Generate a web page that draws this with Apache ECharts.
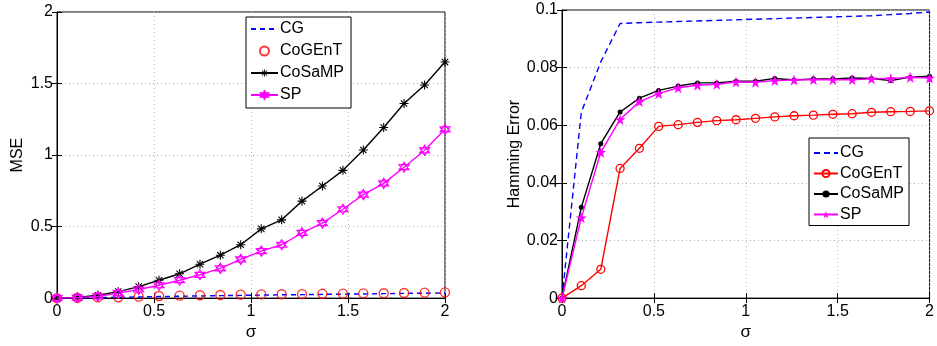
<!DOCTYPE html>
<html>
<head>
<meta charset="utf-8">
<script src="https://cdn.jsdelivr.net/npm/echarts@6/dist/echarts.min.js"></script>
<style>
html,body{margin:0;padding:0;background:#fff;}
#chart{width:937px;height:346px;}
</style>
</head>
<body>
<div id="chart"></div>
<script>
// sigma values: 20 points from 0 to 2
const sigma = [0, 0.105, 0.211, 0.316, 0.421, 0.526, 0.632, 0.737, 0.842, 0.947, 1.053, 1.158, 1.263, 1.368, 1.474, 1.579, 1.684, 1.789, 1.895, 2.0];
const xTicks = [0, 0.5, 1, 1.5, 2];

// Left panel: MSE
const mseCG      = [0, 0.002, 0.004, 0.006, 0.008, 0.011, 0.013, 0.015, 0.017, 0.019, 0.021, 0.023, 0.024, 0.026, 0.028, 0.029, 0.031, 0.033, 0.034, 0.036];
const mseCoGEnT  = [0, 0.002, 0.005, 0.006, 0.010, 0.015, 0.017, 0.020, 0.022, 0.024, 0.026, 0.027, 0.028, 0.030, 0.031, 0.033, 0.034, 0.036, 0.038, 0.040];
const mseCoSaMP  = [0, 0.005, 0.020, 0.045, 0.080, 0.125, 0.170, 0.237, 0.300, 0.373, 0.484, 0.547, 0.678, 0.784, 0.893, 1.035, 1.193, 1.360, 1.490, 1.650];
const mseSP      = [0, 0.003, 0.012, 0.035, 0.060, 0.090, 0.125, 0.163, 0.208, 0.271, 0.328, 0.373, 0.456, 0.524, 0.621, 0.723, 0.802, 0.915, 1.033, 1.180];

// Right panel: Hamming Error
const hamCG      = [0, 0.0645, 0.0820, 0.0953, 0.0956, 0.0958, 0.0960, 0.0962, 0.0964, 0.0966, 0.0968, 0.0970, 0.0972, 0.0974, 0.0976, 0.0978, 0.0980, 0.0984, 0.0988, 0.0993];
const hamCoGEnT  = [0, 0.0043, 0.0100, 0.0450, 0.0520, 0.0596, 0.0602, 0.0610, 0.0616, 0.0619, 0.0624, 0.0629, 0.0633, 0.0635, 0.0638, 0.0640, 0.0645, 0.0647, 0.0648, 0.0650];
const hamCoSaMP  = [0, 0.0315, 0.0536, 0.0646, 0.0694, 0.0721, 0.0736, 0.0747, 0.0747, 0.0753, 0.0753, 0.0762, 0.0757, 0.0761, 0.0761, 0.0764, 0.0762, 0.0755, 0.0767, 0.0770];
const hamSP      = [0, 0.0279, 0.0506, 0.0620, 0.0682, 0.0710, 0.0730, 0.0739, 0.0742, 0.0750, 0.0749, 0.0755, 0.0757, 0.0758, 0.0758, 0.0758, 0.0761, 0.0762, 0.0766, 0.0764];

const seriesNames = ['CG', 'CoGEnT', 'CoSaMP', 'SP'];

function pairs(ys){ return sigma.map((x,i)=>[x, ys[i]]); }

const FONT = 'Liberation Sans, Arial, Helvetica, sans-serif';
const asterisk = 'path://M-1.2,-10 L1.2,-10 L1.2,10 L-1.2,10 Z M-10,-1.2 L10,-1.2 L10,1.2 L-10,1.2 Z M-6.22,-7.92 L7.92,6.22 L6.22,7.92 L-7.92,-6.22 Z M6.22,-7.92 L7.92,-6.22 L-6.22,7.92 L-7.92,6.22 Z';
const hexagram = 'path://M0,-10 L8.66,5 L-8.66,5 Z M0,10 L-8.66,-5 L8.66,-5 Z';
const pentagram = 'path://M0,-10 L2.245,-3.09 L9.51,-3.09 L3.633,1.18 L5.878,8.09 L0,3.82 L-5.878,8.09 L-3.633,1.18 L-9.51,-3.09 L-2.245,-3.09 Z';

function mainX(gi){
  return {
    type:'value', gridIndex:gi, min:0, max:2, interval:0.5,
    name:'σ', nameLocation:'middle', nameGap:22,
    nameTextStyle:{color:'#000', fontSize:17, fontFamily:FONT},
    axisLine:{show:true, lineStyle:{color:'#000', width:1}},
    axisTick:{show:true, inside:true, length:5, lineStyle:{color:'#000'}},
    axisLabel:{color:'#000', fontSize:16, fontFamily:FONT, margin:5},
    splitLine:{show:true, lineStyle:{color:'#b4b4b4', type:[1,3], width:1}}
  };
}
function topX(gi){
  return {
    type:'value', gridIndex:gi, min:0, max:2, interval:0.5, position:'top',
    axisLine:{show:true, lineStyle:{color:'#000', width:1}},
    axisTick:{show:true, inside:true, length:5, lineStyle:{color:'#000'}},
    axisLabel:{show:false}, splitLine:{show:false}
  };
}
function mainY(gi, max, interval, name, gap){
  return {
    type:'value', gridIndex:gi, min:0, max:max, interval:interval,
    name:name, nameLocation:'middle', nameGap:gap,
    nameTextStyle:{color:'#000', fontSize:16, fontFamily:FONT},
    axisLine:{show:true, lineStyle:{color:'#000', width:1}},
    axisTick:{show:true, inside:true, length:5, lineStyle:{color:'#000'}},
    axisLabel:{color:'#000', fontSize:16, fontFamily:FONT, margin:4},
    splitLine:{show:true, lineStyle:{color:'#b4b4b4', type:[1,3], width:1}}
  };
}
function rightY(gi, max, interval){
  return {
    type:'value', gridIndex:gi, min:0, max:max, interval:interval, position:'right',
    axisLine:{show:true, lineStyle:{color:'#000', width:1}},
    axisTick:{show:true, inside:true, length:5, lineStyle:{color:'#000'}},
    axisLabel:{show:false}, splitLine:{show:false}
  };
}

const rn = n => n + ' '; // right-panel series names (distinct for legend icons)

function legendData(names){
  return names.map(n => n.trim() === 'CG' ? {name:n, itemStyle:{opacity:0}} : {name:n});
}

const option = {
  animation:false,
  backgroundColor:'#fff',
  textStyle:{fontFamily:FONT},
  grid:[
    {left:57, top:12, width:388, height:295, show:true, borderColor:'#000', borderWidth:1, backgroundColor:'transparent'},
    {left:562, top:10, width:369, height:297, show:true, borderColor:'#000', borderWidth:1, backgroundColor:'transparent'}
  ],
  xAxis:[ mainX(0), topX(0), mainX(1), topX(1) ],
  yAxis:[ mainY(0, 2, 0.5, 'MSE', 31), rightY(0, 2, 0.5), mainY(1, 0.1, 0.02, 'Hamming Error', 39) , rightY(1, 0.1, 0.02) ],
  legend:[
    {
      left:246, top:17, orient:'vertical', itemWidth:27, itemHeight:9, itemGap:6,
      padding:[4,7,5,4], borderColor:'#000', borderWidth:1, backgroundColor:'#fff',
      textStyle:{color:'#000', fontSize:16, fontFamily:FONT, padding:[0,0,0,-3]},
      data: legendData(seriesNames)
    },
    {
      left:809, top:138, orient:'vertical', itemWidth:24, itemHeight:9, itemGap:4.5,
      padding:[7,5,3,4], borderColor:'#000', borderWidth:1, backgroundColor:'#fff',
      textStyle:{color:'#000', fontSize:16, fontFamily:FONT, padding:[0,0,0,-3]},
      formatter: n => n.trim(),
      data: legendData(seriesNames.map(rn))
    }
  ],
  series:[
    {name:'CG', type:'line', xAxisIndex:0, yAxisIndex:0, data:pairs(mseCG), symbol:'none', clip:false,
     lineStyle:{color:'#0000ff', width:1.4, type:[5,4]}, itemStyle:{color:'#0000ff'}, z:3},
    {name:'CoGEnT', type:'scatter', xAxisIndex:0, yAxisIndex:0, data:pairs(mseCoGEnT), symbol:'circle', symbolSize:9, clip:false,
     itemStyle:{color:'rgba(255,255,255,0)', borderColor:'#ff0000', borderWidth:1.4}, z:4},
    {name:'CoSaMP', type:'line', xAxisIndex:0, yAxisIndex:0, data:pairs(mseCoSaMP), symbol:asterisk, symbolSize:9, showAllSymbol:true, clip:false,
     lineStyle:{color:'#000', width:1.4}, itemStyle:{color:'#000'}, z:5},
    {name:'SP', type:'line', xAxisIndex:0, yAxisIndex:0, data:pairs(mseSP), symbol:hexagram, symbolSize:10, showAllSymbol:true, clip:false,
     lineStyle:{color:'#ff00ff', width:1.4}, itemStyle:{color:'rgba(255,255,255,0)', borderColor:'#ff00ff', borderWidth:1.2}, z:6},

    {name:rn('CG'), type:'line', xAxisIndex:2, yAxisIndex:2, data:pairs(hamCG), symbol:'none', clip:false,
     lineStyle:{color:'#0000ff', width:1.4, type:[6,4]}, itemStyle:{color:'#0000ff'}, z:3},
    {name:rn('CoGEnT'), type:'line', xAxisIndex:2, yAxisIndex:2, data:pairs(hamCoGEnT), symbol:'circle', symbolSize:8, showAllSymbol:true, clip:false,
     lineStyle:{color:'#ff0000', width:1.4}, itemStyle:{color:'rgba(255,255,255,0)', borderColor:'#ff0000', borderWidth:1.3}, z:4},
    {name:rn('CoSaMP'), type:'line', xAxisIndex:2, yAxisIndex:2, data:pairs(hamCoSaMP), symbol:'circle', symbolSize:5, showAllSymbol:true, clip:false,
     lineStyle:{color:'#000', width:1.4}, itemStyle:{color:'#000'}, z:5},
    {name:rn('SP'), type:'line', xAxisIndex:2, yAxisIndex:2, data:pairs(hamSP), symbol:pentagram, symbolSize:11, showAllSymbol:true, clip:false,
     lineStyle:{color:'#ff00ff', width:1.4}, itemStyle:{color:'#ff00ff'}, z:6}
  ]
};

const chart = echarts.init(document.getElementById('chart'), null, {renderer:'canvas'});
chart.setOption(option);
</script>
</body>
</html>
